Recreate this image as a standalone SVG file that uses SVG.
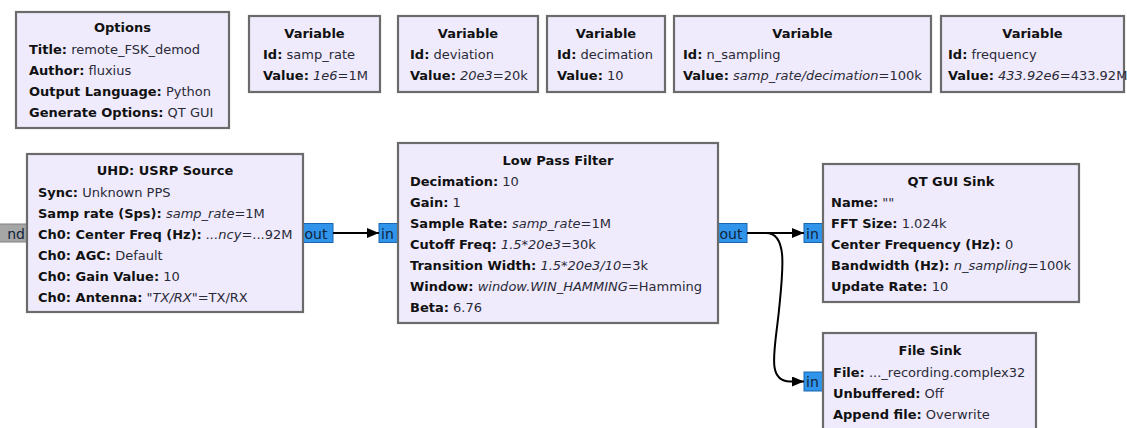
<svg xmlns="http://www.w3.org/2000/svg" width="1127" height="428" viewBox="0 0 1127 428">
<defs>
<style>
text{font-family:"DejaVu Sans","Liberation Sans",sans-serif;font-size:13px;fill:#111}
.box{fill:#EFEBFD;stroke:#6b6b6b;stroke-width:2.2}
.ttl{font-weight:bold;text-anchor:middle}
.k{font-weight:bold}
.v{fill:#2a2a36}
.i{font-style:italic;fill:#2a2a36}
.port{fill:#3095EA;stroke:#1a66b0;stroke-width:1}
.mport{fill:#A6A6A6;stroke:#808080;stroke-width:1}
.pt{font-size:14px;fill:#10233a}
.wire{fill:none;stroke:#000;stroke-width:2}
</style>
<marker id="arr" viewBox="0 0 12 10" refX="12" refY="5" markerWidth="12" markerHeight="10" markerUnits="userSpaceOnUse" orient="auto">
<path d="M0,0 L12,5 L0,10 z" fill="#000"/>
</marker>
</defs>
<rect width="1127" height="428" fill="#fff"/>

<g id="options">
<rect class="box" x="16" y="12" width="213" height="116"/>
<text class="ttl" x="122.5" y="32">Options</text>
<text x="29" y="54"><tspan class="k">Title:</tspan> <tspan class="v">remote_FSK_demod</tspan></text>
<text x="29" y="75"><tspan class="k">Author:</tspan> <tspan class="v">fluxius</tspan></text>
<text x="29" y="96"><tspan class="k">Output Language:</tspan> <tspan class="v">Python</tspan></text>
<text x="29" y="117"><tspan class="k">Generate Options:</tspan> <tspan class="v">QT GUI</tspan></text>
</g>

<g id="var_samp_rate">
<rect class="box" x="249" y="16" width="131" height="76"/>
<text class="ttl" x="314.5" y="38">Variable</text>
<text x="263" y="59"><tspan class="k">Id:</tspan> <tspan class="v">samp_rate</tspan></text>
<text x="263" y="80"><tspan class="k">Value:</tspan> <tspan class="i">1e6</tspan><tspan class="v">=1M</tspan></text>
</g>

<g id="var_deviation">
<rect class="box" x="398" y="16" width="140" height="76"/>
<text class="ttl" x="468" y="38">Variable</text>
<text x="410" y="59"><tspan class="k">Id:</tspan> <tspan class="v">deviation</tspan></text>
<text x="410" y="80"><tspan class="k">Value:</tspan> <tspan class="i">20e3</tspan><tspan class="v">=20k</tspan></text>
</g>

<g id="var_decimation">
<rect class="box" x="547" y="16" width="118" height="76"/>
<text class="ttl" x="606" y="38">Variable</text>
<text x="557" y="59"><tspan class="k">Id:</tspan> <tspan class="v">decimation</tspan></text>
<text x="557" y="80"><tspan class="k">Value:</tspan> <tspan class="v">10</tspan></text>
</g>

<g id="var_n_sampling">
<rect class="box" x="674" y="16" width="257" height="76"/>
<text class="ttl" x="802.5" y="38">Variable</text>
<text x="683" y="59"><tspan class="k">Id:</tspan> <tspan class="v">n_sampling</tspan></text>
<text x="683" y="80"><tspan class="k">Value:</tspan> <tspan class="i">samp_rate/decimation</tspan><tspan class="v">=100k</tspan></text>
</g>

<g id="var_frequency">
<rect class="box" x="941" y="16" width="183" height="76"/>
<text class="ttl" x="1032.5" y="38">Variable</text>
<text x="948" y="59"><tspan class="k">Id:</tspan> <tspan class="v">frequency</tspan></text>
<text x="948" y="80"><tspan class="k">Value:</tspan> <tspan class="i">433.92e6</tspan><tspan class="v">=433.92M</tspan></text>
</g>

<g id="uhd_usrp_source">
<rect class="mport" x="-2" y="224" width="29" height="18"/>
<text class="pt" x="25" y="238.5" text-anchor="end">nd</text>
<rect class="port" x="303" y="223.5" width="30" height="19"/>
<text class="pt" x="304.5" y="238.5">out</text>
<rect class="box" x="27" y="154" width="276" height="158"/>
<text class="ttl" x="165" y="175">UHD: USRP Source</text>
<text x="38" y="197"><tspan class="k">Sync:</tspan> <tspan class="v">Unknown PPS</tspan></text>
<text x="38" y="218"><tspan class="k">Samp rate (Sps):</tspan> <tspan class="i">samp_rate</tspan><tspan class="v">=1M</tspan></text>
<text x="38" y="239"><tspan class="k">Ch0: Center Freq (Hz):</tspan> <tspan class="i">...ncy</tspan><tspan class="v">=...92M</tspan></text>
<text x="38" y="260"><tspan class="k">Ch0: AGC:</tspan> <tspan class="v">Default</tspan></text>
<text x="38" y="281"><tspan class="k">Ch0: Gain Value:</tspan> <tspan class="v">10</tspan></text>
<text x="38" y="302"><tspan class="k">Ch0: Antenna:</tspan> <tspan class="v">"</tspan><tspan class="i">TX/RX</tspan><tspan class="v">"=TX/RX</tspan></text>
</g>

<g id="low_pass_filter">
<rect class="port" x="379" y="223.5" width="19" height="19"/>
<text class="pt" x="381" y="238.5">in</text>
<rect class="port" x="718" y="223.5" width="29" height="19"/>
<text class="pt" x="719.5" y="238.5">out</text>
<rect class="box" x="398" y="143" width="320" height="180"/>
<text class="ttl" x="558" y="165">Low Pass Filter</text>
<text x="410" y="186"><tspan class="k">Decimation:</tspan> <tspan class="v">10</tspan></text>
<text x="410" y="207"><tspan class="k">Gain:</tspan> <tspan class="v">1</tspan></text>
<text x="410" y="228"><tspan class="k">Sample Rate:</tspan> <tspan class="i">samp_rate</tspan><tspan class="v">=1M</tspan></text>
<text x="410" y="249"><tspan class="k">Cutoff Freq:</tspan> <tspan class="i">1.5*20e3</tspan><tspan class="v">=30k</tspan></text>
<text x="410" y="270"><tspan class="k">Transition Width:</tspan> <tspan class="i">1.5*20e3/10</tspan><tspan class="v">=3k</tspan></text>
<text x="410" y="291"><tspan class="k">Window:</tspan> <tspan class="i">window.WIN_HAMMING</tspan><tspan class="v">=Hamming</tspan></text>
<text x="410" y="312"><tspan class="k">Beta:</tspan> <tspan class="v">6.76</tspan></text>
</g>

<g id="qt_gui_sink">
<rect class="port" x="804" y="223.5" width="19" height="19"/>
<text class="pt" x="806" y="238.5">in</text>
<rect class="box" x="823" y="164" width="256" height="138"/>
<text class="ttl" x="951" y="186">QT GUI Sink</text>
<text x="831" y="207"><tspan class="k">Name:</tspan> <tspan class="v">""</tspan></text>
<text x="831" y="228"><tspan class="k">FFT Size:</tspan> <tspan class="v">1.024k</tspan></text>
<text x="831" y="249"><tspan class="k">Center Frequency (Hz):</tspan> <tspan class="v">0</tspan></text>
<text x="831" y="270"><tspan class="k">Bandwidth (Hz):</tspan> <tspan class="i">n_sampling</tspan><tspan class="v">=100k</tspan></text>
<text x="831" y="291"><tspan class="k">Update Rate:</tspan> <tspan class="v">10</tspan></text>
</g>

<g id="file_sink">
<rect class="port" x="804" y="372" width="19" height="19"/>
<text class="pt" x="806" y="387">in</text>
<rect class="box" x="823" y="333" width="213" height="110"/>
<text class="ttl" x="930" y="355">File Sink</text>
<text x="833" y="377"><tspan class="k">File:</tspan> <tspan class="v">..._recording.complex32</tspan></text>
<text x="833" y="398"><tspan class="k">Unbuffered:</tspan> <tspan class="v">Off</tspan></text>
<text x="833" y="419"><tspan class="k">Append file:</tspan> <tspan class="v">Overwrite</tspan></text>
</g>

<g id="connectors">
<path class="wire" d="M333,233 L379,233" marker-end="url(#arr)"/>
<path class="wire" d="M747,233 L804,233" marker-end="url(#arr)"/>
<path class="wire" d="M747,233 L766,233 C788,233 783,270 779,310 C775,350 766,381.5 790,381.5 L804,381.5" marker-end="url(#arr)"/>
</g>
</svg>
